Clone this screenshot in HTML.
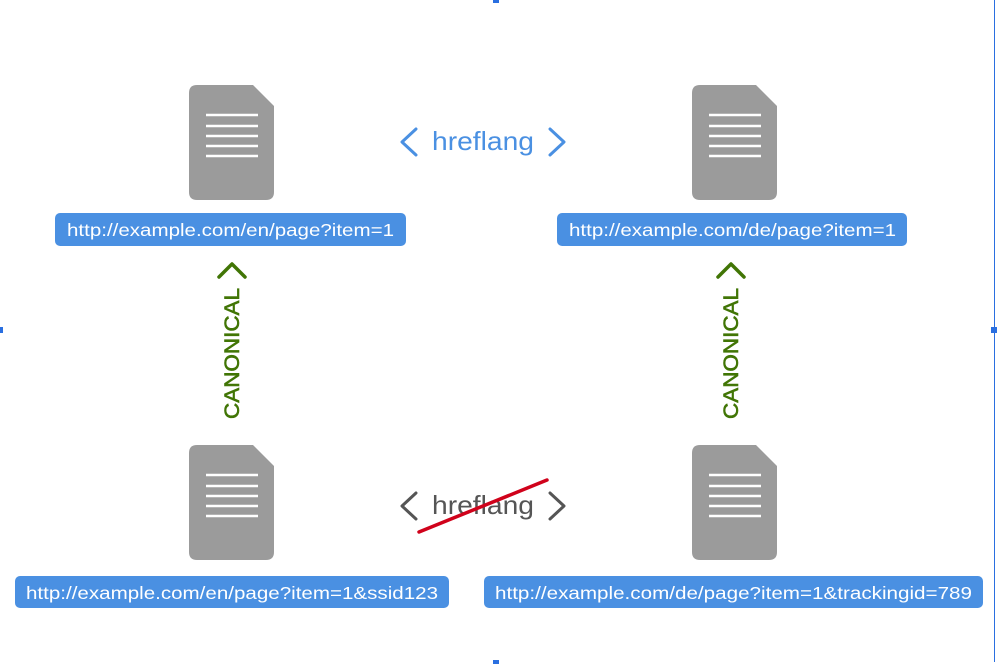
<!DOCTYPE html>
<html><head><meta charset="utf-8"><style>
html,body{margin:0;padding:0;background:#fff;}
svg{display:block;font-family:"Liberation Sans",Arial,sans-serif;}
</style></head><body>
<svg width="997" height="664" viewBox="0 0 997 664" xmlns="http://www.w3.org/2000/svg">
<defs>
<g id="doc">
<path d="M8 0 H64 L85 21 V107 Q85 115 77 115 H8 Q0 115 0 107 V8 Q0 0 8 0 Z" fill="#9b9b9b"/>
<g stroke="#fff" stroke-width="2.5">
<line x1="17" y1="30" x2="69" y2="30"/><line x1="17" y1="41" x2="69" y2="41"/>
<line x1="17" y1="51" x2="69" y2="51"/><line x1="17" y1="61" x2="69" y2="61"/>
<line x1="17" y1="71" x2="69" y2="71"/>
</g>
</g>
</defs>
<line x1="994.5" y1="0" x2="994.5" y2="662" stroke="#2a6fe0" stroke-width="1"/>
<rect x="493" y="0" width="6" height="3" fill="#2a6fe0"/>
<rect x="493" y="660" width="6" height="4" fill="#2a6fe0"/>
<rect x="0" y="327" width="3" height="6" fill="#2a6fe0"/>
<rect x="991" y="327" width="6" height="6" fill="#2a6fe0"/>

<use href="#doc" x="189" y="85"/>
<use href="#doc" x="692" y="85"/>
<use href="#doc" x="189" y="445"/>
<use href="#doc" x="692" y="445"/>

<g fill="#4a90e2">
<rect x="55" y="213" width="351" height="33" rx="5"/>
<rect x="557" y="213" width="350" height="33" rx="5"/>
<rect x="15" y="576" width="434" height="32" rx="5"/>
<rect x="484" y="576" width="499" height="32" rx="5"/>
</g>
<g fill="#fff" font-size="17.5">
<text x="67" y="236" textLength="327" lengthAdjust="spacingAndGlyphs">http://example.com/en/page?item=1</text>
<text x="569" y="236" textLength="327" lengthAdjust="spacingAndGlyphs">http://example.com/de/page?item=1</text>
<text x="26" y="599" textLength="412" lengthAdjust="spacingAndGlyphs">http://example.com/en/page?item=1&amp;ssid123</text>
<text x="495" y="599" textLength="477" lengthAdjust="spacingAndGlyphs">http://example.com/de/page?item=1&amp;trackingid=789</text>
</g>

<g fill="none" stroke="#4a90e2" stroke-width="3" stroke-linecap="round" stroke-linejoin="round">
<polyline points="416,129 402,142 416,155"/>
<polyline points="550,129 564,142 550,155"/>
</g>
<text x="432" y="150" font-size="26" fill="#4a90e2" textLength="102" lengthAdjust="spacingAndGlyphs">hreflang</text>

<g fill="none" stroke="#555" stroke-width="3" stroke-linecap="round" stroke-linejoin="round">
<polyline points="416,493 402,506 416,519"/>
<polyline points="550,493 564,506 550,519"/>
</g>
<text x="432" y="514" font-size="26" fill="#555" textLength="102" lengthAdjust="spacingAndGlyphs">hreflang</text>
<line x1="419" y1="532" x2="547" y2="480" stroke="#d0021b" stroke-width="3.5" stroke-linecap="round"/>

<g fill="none" stroke="#417505" stroke-width="3.5" stroke-linecap="round" stroke-linejoin="round">
<polyline points="219,277 232,264 245,277"/>
<polyline points="718,277 731,264 744,277"/>
</g>
<g fill="#417505" stroke="#417505" stroke-width="0.6" font-size="21">
<text transform="translate(239,419) rotate(-90)" textLength="131" lengthAdjust="spacingAndGlyphs">CANONICAL</text>
<text transform="translate(738,419) rotate(-90)" textLength="131" lengthAdjust="spacingAndGlyphs">CANONICAL</text>
</g>
</svg>
</body></html>
